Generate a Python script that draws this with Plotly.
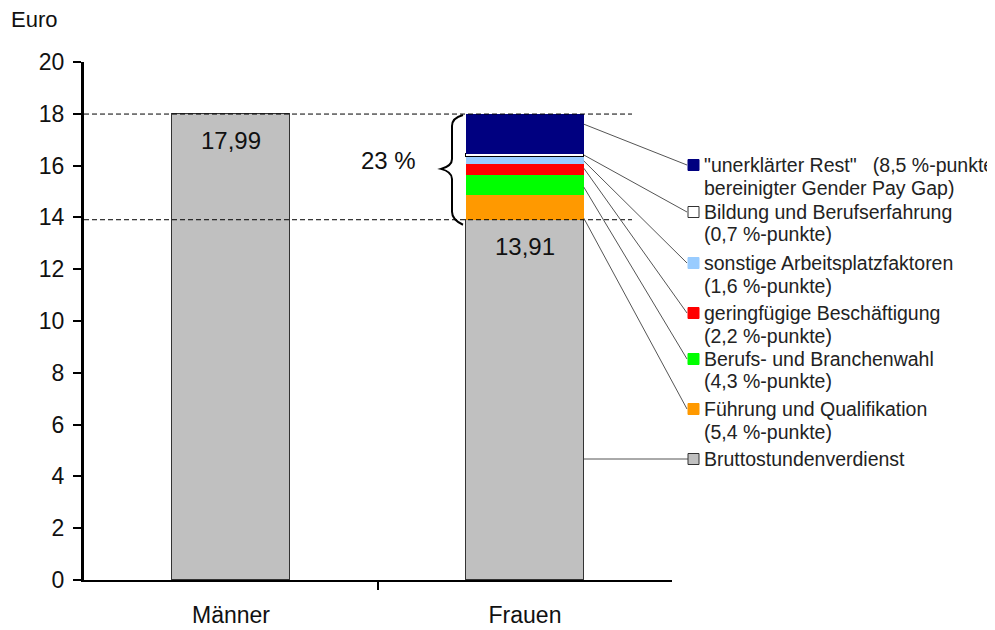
import plotly.graph_objects as go

# ---- data ----
categories = ["Männer", "Frauen"]
gross_wage = [17.99, 13.91]
gross_labels = ["17,99", "13,91"]

comp_names = [
    "Führung und Qualifikation",
    "Berufs- und Branchenwahl",
    "geringfügige Beschäftigung",
    "sonstige Arbeitsplatzfaktoren",
    "Bildung und Berufserfahrung",
    "\"unerklärter Rest\"",
]
comp_values = [0.97, 0.77, 0.40, 0.29, 0.12, 1.53]   # Euro, Frauen only (stacked bottom -> top)
comp_points = ["5,4", "4,3", "2,2", "1,6", "0,7", "8,5"]
comp_colors = ["#ff9900", "#00ff00", "#ff0000", "#99ccff", "#ffffff", "#000080"]
gap_label = "23 %"
gross_name = "Bruttostundenverdienst"

# ---- geometry (page pixels; page body has an 8px margin) ----
OFF = 8
W, H = 995 - OFF, 630 - OFF
L, R, T, B = 84 - OFF, 323, 62 - OFF, 50
PW, PH = W - L - R, H - T - B
XMIN, XMAX = -0.5, 1.5
YMIN, YMAX = 0, 20
BARW = 0.4
FONT = "Liberation Sans, Arial, Helvetica, sans-serif"


def px2paper(px, py):
    return (px - OFF - L) / PW, (H - B - (py - OFF)) / PH


def y2px(v):
    return OFF + H - B - (v - YMIN) / (YMAX - YMIN) * PH


def x2px(v):
    return OFF + L + (v - XMIN) / (XMAX - XMIN) * PW


fig = go.Figure()
fig.add_trace(go.Bar(
    x=[0, 1], y=gross_wage, width=BARW, marker=dict(color="#c0c0c0", line=dict(color="#333333", width=1)),
    showlegend=False, hoverinfo="skip"))
for name, val, col in zip(comp_names, comp_values, comp_colors):
    lc = "#000000" if col == "#ffffff" else col
    lw = 1 if col == "#ffffff" else 0
    fig.add_trace(go.Bar(x=[1], y=[val], width=BARW, marker=dict(color=col, line=dict(color=lc, width=lw)),
                         showlegend=False, hoverinfo="skip"))

shapes = []
annotations = []

top_w = gross_wage[0]
low_w = gross_wage[1]
# dashed reference lines
for yv in (top_w, low_w):
    shapes.append(dict(type="line", xref="paper", yref="y", x0=0, x1=px2paper(632, 0)[0], y0=yv, y1=yv,
                       line=dict(color="#000000", width=1, dash="5px,3px"), layer="above"))

# value labels
for i, lab in enumerate(gross_labels):
    annotations.append(dict(x=i, y=gross_wage[i], xref="x", yref="y", text=lab, showarrow=False,
                            yanchor="top", yshift=-11, font=dict(size=24, color="#111111", family=FONT)))

# curly brace
yt, yb = y2px(top_w), y2px(low_w) + 4
ym = (yt + yb) / 2
xr, xm, xl = 463, 452, 441
pts = [(xr, yt + 1), (xm, yt + 4), (xm, yt + 12), (xm, ym - 10), (xm, ym - 3), (xl, ym), (xm, ym + 3),
       (xm, ym + 10), (xm, yb - 12), (xm, yb - 4), (xr, yb + 1)]
pp = [px2paper(a, b) for a, b in pts]
path = ("M {0[0]},{0[1]} Q {1[0]},{1[1]} {2[0]},{2[1]} L {3[0]},{3[1]} Q {4[0]},{4[1]} {5[0]},{5[1]} "
        "Q {6[0]},{6[1]} {7[0]},{7[1]} L {8[0]},{8[1]} Q {9[0]},{9[1]} {10[0]},{10[1]}").format(*pp)
shapes.append(dict(type="path", xref="paper", yref="paper", path=path, line=dict(color="#000000", width=2)))
annotations.append(dict(x=px2paper(388, 0)[0], y=px2paper(0, 161)[1], xref="paper", yref="paper",
                        text=gap_label, showarrow=False, yanchor="middle",
                        font=dict(size=24, color="#111111", family=FONT)))

# legend with leader lines
leg_y = [409, 359, 313, 263, 212, 165]
start_y = [13.97, 15.17, 15.9, 16.18, 16.41, 17.6]
bar_right = x2px(1 + BARW / 2)
sq = 11
LEGF = dict(size=19.5, color="#222222", family=FONT)
for name, pts_, col, ly, sy in zip(comp_names, comp_points, comp_colors, leg_y, start_y):
    x0p, y0p = px2paper(bar_right, y2px(sy))
    x1p, y1p = px2paper(687, ly)
    shapes.append(dict(type="line", xref="paper", yref="paper", x0=x0p, y0=y0p, x1=x1p, y1=y1p,
                       line=dict(color="#555555", width=1)))
    a0 = px2paper(688, ly + sq / 2)
    a1 = px2paper(688 + sq, ly - sq / 2)
    outline = "#333333" if col == "#ffffff" else col
    shapes.append(dict(type="rect", xref="paper", yref="paper", x0=a0[0], y0=a0[1], x1=a1[0], y1=a1[1],
                       fillcolor=col, line=dict(color=outline, width=1)))
    if name.startswith("\""):
        l1 = name + "&nbsp;&nbsp;&nbsp;(" + pts_ + " %-punkte"
        l2 = "bereinigter Gender Pay Gap)"
    else:
        l1 = name
        l2 = "(" + pts_ + " %-punkte)"
    for k, t in enumerate([l1, l2]):
        tx, ty = px2paper(702, ly + k * 22.5)
        annotations.append(dict(x=tx, y=ty, xref="paper", yref="paper", text=t, showarrow=False,
                                xanchor="left", yanchor="middle", font=LEGF))

# Brutto legend
gy = 459
x0p, y0p = px2paper(bar_right, gy)
x1p, y1p = px2paper(688, gy)
shapes.append(dict(type="line", xref="paper", yref="paper", x0=x0p, y0=y0p, x1=x1p, y1=y1p,
                   line=dict(color="#555555", width=1)))
a0 = px2paper(688, gy + sq / 2)
a1 = px2paper(688 + sq, gy - sq / 2)
shapes.append(dict(type="rect", xref="paper", yref="paper", x0=a0[0], y0=a0[1], x1=a1[0], y1=a1[1],
                   fillcolor="#c0c0c0", line=dict(color="#333333", width=1)))
tx, ty = px2paper(702, gy)
annotations.append(dict(x=tx, y=ty, xref="paper", yref="paper", text=gross_name, showarrow=False,
                        xanchor="left", yanchor="middle", font=LEGF))

# y-axis title
annotations.append(dict(x=px2paper(9, 0)[0], y=px2paper(0, 20)[1], xref="paper", yref="paper", text="Euro",
                        showarrow=False, xanchor="left", yanchor="middle",
                        font=dict(size=22, color="#111111", family=FONT)))

fig.update_layout(
    width=W, height=H, margin=dict(l=L, r=R, t=T, b=B, autoexpand=False),
    paper_bgcolor="white", plot_bgcolor="white", barmode="stack", bargap=0,
    font=dict(family=FONT, color="#111111"),
    shapes=shapes, annotations=annotations,
    xaxis=dict(range=[XMIN, XMAX], tickvals=[0, 1], ticktext=categories, ticks="", showgrid=False,
               zeroline=False, showline=True, linecolor="#000000", linewidth=2,
               tickfont=dict(size=23, color="#111111"), ticklabelstandoff=13,
               minor=dict(tickvals=[0.5], ticks="outside", ticklen=8, tickwidth=2, tickcolor="#000000")),
    yaxis=dict(range=[YMIN, YMAX], tickvals=list(range(0, 21, 2)), ticks="outside", ticklen=8, tickwidth=1.5,
               tickcolor="#000000", showgrid=False, zeroline=False, showline=True, linecolor="#000000",
               linewidth=3, tickfont=dict(size=23, color="#111111"), ticklabelstandoff=4),
)

fig.write_html("out.html")
